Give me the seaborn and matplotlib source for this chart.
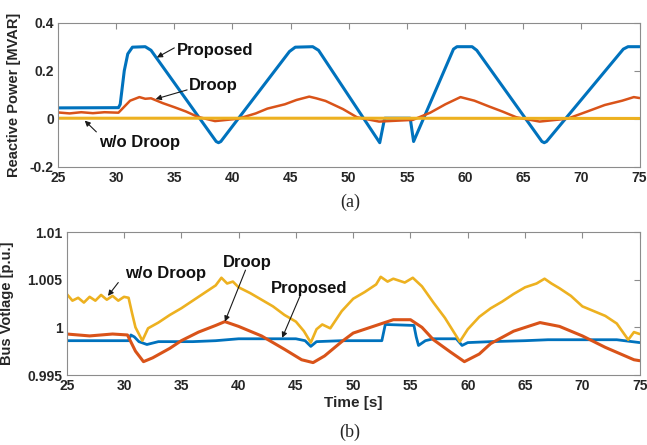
import matplotlib
matplotlib.use('Agg')
import matplotlib.pyplot as plt
import seaborn as sns
import pandas as pd

# ============================================================
# DATA
# ============================================================
# (a) reactive power [MVAR]
t_prop_q = [25, 30.2, 30.35, 30.7, 31.0, 31.4, 32.5, 33.0, 38.6, 38.8, 39.0, 44.9,
            45.4, 46.9, 47.4, 52.66, 53.08, 55.28, 55.57, 59.0, 59.3, 60.6, 61.0,
            66.6, 66.8, 67.0, 73.6, 74.0, 75.0]
q_prop = [0.045, 0.046, 0.06, 0.2, 0.27, 0.298, 0.3, 0.285, -0.095, -0.1, -0.095, 0.28,
          0.298, 0.3, 0.285, -0.1, 0.002, 0.002, -0.095, 0.29, 0.3, 0.3, 0.285,
          -0.095, -0.1, -0.095, 0.29, 0.3, 0.3]

t_droop_q = [25, 26, 27, 28, 29, 30.2, 30.5, 31.2, 32.0, 32.5, 33.0, 34.0, 35.0, 36.0,
             37.0, 38.5, 40.5, 42.0, 43.0, 44.5, 45.5, 46.6, 47.2, 48.0, 49.5, 50.7,
             52.6, 55.5, 57.0, 58.3, 59.6, 60.8, 62.0, 63.2, 64.4, 66.4, 68.8, 70.5,
             72.0, 73.5, 74.5, 75.0]
q_droop = [0.026, 0.022, 0.027, 0.023, 0.027, 0.025, 0.04, 0.075, 0.09, 0.083, 0.085,
           0.065, 0.048, 0.03, 0.008, -0.01, 0.0, 0.022, 0.042, 0.06, 0.078, 0.092,
           0.085, 0.074, 0.04, 0.006, -0.012, -0.005, 0.025, 0.06, 0.09, 0.075, 0.052,
           0.03, 0.006, -0.012, 0.0, 0.03, 0.057, 0.075, 0.09, 0.086]

t_wo_q = [25, 50, 75]
q_wo = [0.002, 0.002, 0.001]

# (b) bus voltage [p.u.]
t_wo_v = [25, 25.5, 26, 26.5, 27, 27.5, 28, 28.5, 29, 29.5, 30, 30.4, 30.7, 31.0,
          31.6, 32.1, 33, 34, 35, 36, 37, 37.5, 38, 38.5, 39, 39.5, 40, 41, 42, 43,
          44, 45, 45.7, 46.3, 46.8, 47.3, 48, 49, 50, 51, 52, 52.4, 53, 53.5, 54,
          54.5, 55.2, 56, 57, 58, 59.3, 60, 61, 62, 63, 64, 65, 66, 66.7, 67.3, 68,
          69, 70, 71, 72, 73, 74, 74.5, 75]
v_wo = [1.0035, 1.0028, 1.0031, 1.0026, 1.0032, 1.0028, 1.0034, 1.0029, 1.0033, 1.0028,
        1.0032, 1.0031, 1.0015, 1.0000, 0.9986, 0.9999, 1.0005, 1.0013, 1.0020, 1.0028,
        1.0036, 1.0040, 1.0044, 1.0052, 1.0046, 1.0048, 1.0042, 1.0036, 1.0029, 1.0022,
        1.0013, 1.0006, 0.9996, 0.9984, 0.9998, 1.0003, 0.9999, 1.0017, 1.0030, 1.0037,
        1.0045, 1.0053, 1.0048, 1.0051, 1.0049, 1.0047, 1.0052, 1.0043, 1.0026, 1.0010,
        0.9985, 0.9998, 1.0011, 1.0020, 1.0027, 1.0035, 1.0042, 1.0046, 1.0051, 1.0046,
        1.0041, 1.0033, 1.0022, 1.0017, 1.0012, 1.0004, 0.9987, 0.9995, 0.9993]

t_droop_v = [25, 27, 29, 30.3, 31.0, 31.7, 32.5, 34, 35, 36.5, 38, 38.8, 40, 42, 44,
             45.5, 46.5, 47.5, 49, 50, 52, 53.5, 55, 56, 57, 58.5, 59.7, 61, 62, 64,
             66.3, 68, 70, 72, 74.5, 75]
v_droop = [0.9993, 0.9991, 0.9993, 0.9992, 0.9975, 0.9964, 0.9968, 0.9978, 0.9986,
           0.9995, 1.0002, 1.0006, 1.0001, 0.9991, 0.9977, 0.9966, 0.9963, 0.9970,
           0.9985, 0.9994, 1.0002, 1.0008, 1.0008, 1.0000, 0.9987, 0.9974, 0.9964,
           0.9972, 0.9983, 0.9996, 1.0005, 1.0001, 0.9991, 0.9979, 0.9966, 0.9965]

t_prop_v = [25, 30.4, 30.6, 30.9, 31.3, 32.0, 33, 36, 38, 40, 43, 45, 45.8, 46.3, 46.8,
            49, 52.5, 52.8, 55.3, 55.5, 55.7, 56.3, 57, 59, 59.5, 60, 62, 65, 67, 70,
            73, 75]
v_prop = [0.9986, 0.9986, 0.9992, 0.9990, 0.9985, 0.9982, 0.9985, 0.9985, 0.9986,
          0.9988, 0.9988, 0.9988, 0.9986, 0.9980, 0.9985, 0.9986, 0.9986, 1.0003,
          1.0002, 0.9990, 0.9981, 0.9986, 0.9988, 0.9988, 0.9981, 0.9984, 0.9985,
          0.9986, 0.9987, 0.9987, 0.9987, 0.9984]

BLUE, ORANGE, YELLOW = "#0072BD", "#D95319", "#EDB120"

# ============================================================
# STYLE
# ============================================================
sns.set_theme(style="white")
plt.rcParams['font.family'] = ['Liberation Sans', 'DejaVu Sans']
plt.rcParams['font.weight'] = 'bold'
plt.rcParams['axes.labelweight'] = 'bold'

fig = plt.figure(figsize=(6.47, 4.45), dpi=100)
ax1 = fig.add_axes([0.0896, 0.6254, 0.8990, 0.3236])
ax2 = fig.add_axes([0.1031, 0.1573, 0.8856, 0.3213])

def draw(ax, t, y, color, lw):
    df = pd.DataFrame({"t": t, "y": y})
    sns.lineplot(data=df, x="t", y="y", ax=ax, color=color, lw=lw,
                 estimator=None, sort=False)

def style(ax):
    for s in ax.spines.values():
        s.set_color("#8c8c8c")
        s.set_linewidth(0.8)
    ax.tick_params(direction="in", length=4, width=0.8, color="#8c8c8c",
                   top=True, right=True, labelsize=10, labelcolor="#262626", pad=3)
    for lab in ax.get_xticklabels() + ax.get_yticklabels():
        lab.set_fontweight("bold")

arrow = dict(arrowstyle="-|>", color="k", lw=0.8, mutation_scale=8,
             shrinkA=0, shrinkB=0)
txt = dict(fontsize=12, fontweight="bold", color="#111111", va="center", ha="left")

# ============================================================
# (a) Reactive power
# ============================================================
draw(ax1, t_prop_q, q_prop, BLUE, 2.2)
draw(ax1, t_droop_q, q_droop, ORANGE, 1.8)
draw(ax1, t_wo_q, q_wo, YELLOW, 2.2)
ax1.set_xlim(25, 75)
ax1.set_ylim(-0.2, 0.4)
ax1.set_xticks(range(25, 76, 5))
ax1.set_yticks([-0.2, 0, 0.2, 0.4])
ax1.set_yticklabels(["-0.2", "0", "0.2", "0.4"])
ax1.set_xlabel("")
ax1.set_ylabel("Reactive Power [MVAR]", fontsize=10.5)
ax1.yaxis.set_label_coords(-0.064, 0.5)
style(ax1)

ax1.annotate("", xy=(33.5, 0.255), xytext=(35.0, 0.295), arrowprops=arrow)
ax1.text(35.2, 0.283, "Proposed", **txt)
ax1.annotate("", xy=(33.4, 0.082), xytext=(36.1, 0.12), arrowprops=arrow)
ax1.text(36.25, 0.137, "Droop", **txt)
ax1.annotate("", xy=(27.3, -0.008), xytext=(28.3, -0.055), arrowprops=arrow)
ax1.text(28.5, -0.1, "w/o Droop", **txt)

fig.text(0.541, 1 - 202 / 445, "(a)", family=["Liberation Serif", "DejaVu Serif"],
         fontsize=13, fontweight="normal", ha="center", va="center")

# ============================================================
# (b) Bus voltage
# ============================================================
draw(ax2, t_prop_v, v_prop, BLUE, 2.0)
draw(ax2, t_droop_v, v_droop, ORANGE, 2.2)
draw(ax2, t_wo_v, v_wo, YELLOW, 1.9)
ax2.set_xlim(25, 75)
ax2.set_ylim(0.995, 1.01)
ax2.set_xticks(range(25, 76, 5))
ax2.set_yticks([0.995, 1.0, 1.005, 1.01])
ax2.set_yticklabels(["0.995", "1", "1.005", "1.01"])
ax2.set_xlabel("Time [s]", fontsize=11, labelpad=2)
ax2.set_ylabel("Bus Votlage [p.u.]", fontsize=10.5)
ax2.yaxis.set_label_coords(-0.092, 0.5)
style(ax2)

ax2.annotate("", xy=(28.6, 1.0033), xytext=(29.5, 1.0047), arrowprops=arrow)
ax2.text(30.06, 1.0057, "w/o Droop", **txt)
ax2.annotate("", xy=(38.8, 1.0006), xytext=(40.6, 1.006), arrowprops=arrow)
ax2.text(38.65, 1.0068, "Droop", **txt)
ax2.annotate("", xy=(43.8, 0.9989), xytext=(45.4, 1.0034), arrowprops=arrow)
ax2.text(42.8, 1.0041, "Proposed", **txt)

fig.text(0.541, 1 - 432 / 445, "(b)", family=["Liberation Serif", "DejaVu Serif"],
         fontsize=13, fontweight="normal", ha="center", va="center")

fig.savefig("out.png", dpi=100)
